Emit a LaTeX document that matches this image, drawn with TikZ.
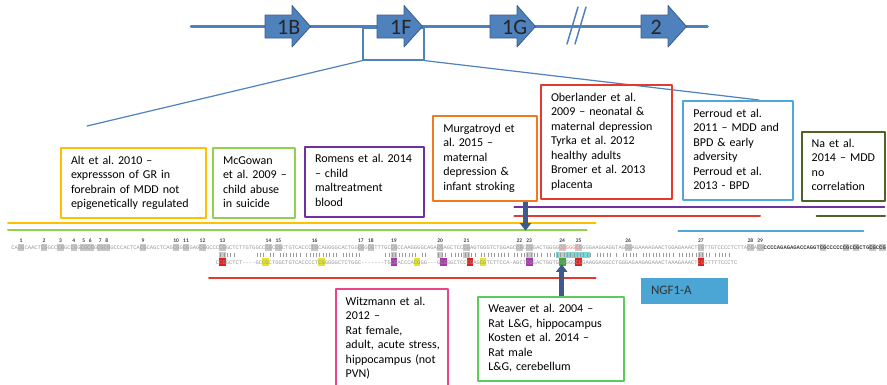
\documentclass[tikz,border=0pt]{standalone}
\usepackage{fontspec}
\setmainfont{Carlito}
\newfontfamily\seqfont{Liberation Mono}
\usepackage{tikz}
\usetikzlibrary{arrows.meta}
\frenchspacing
\definecolor{tfowbd}{rgb}{0.310,0.506,0.741}
\definecolor{rozdoa}{rgb}{0.220,0.365,0.541}
\definecolor{ffcqqq}{rgb}{1.0,0.753,0.0}
\definecolor{pedqzq}{rgb}{0.573,0.816,0.314}
\definecolor{iqrqaq}{rgb}{0.439,0.188,0.627}
\definecolor{fqiaew}{rgb}{0.941,0.478,0.118}
\definecolor{eqraee}{rgb}{0.886,0.231,0.180}
\definecolor{teaodc}{rgb}{0.306,0.659,0.863}
\definecolor{tfueeo}{rgb}{0.310,0.384,0.157}
\definecolor{eptuoa}{rgb}{0.914,0.275,0.541}
\definecolor{zccbzc}{rgb}{0.361,0.796,0.361}
\definecolor{tbazdz}{rgb}{0.294,0.647,0.835}
\definecolor{rdzaoa}{rgb}{0.239,0.353,0.541}
\definecolor{papapa}{rgb}{0.604,0.604,0.604}
\definecolor{cococo}{rgb}{0.784,0.784,0.784}
\definecolor{eqeqwe}{rgb}{0.878,0.125,0.118}
\definecolor{etetec}{rgb}{0.894,0.894,0.173}
\definecolor{atraao}{rgb}{0.643,0.227,0.659}
\definecolor{rdaard}{rgb}{0.239,0.667,0.239}
\definecolor{ifdtdt}{rgb}{0.498,0.831,0.831}
\definecolor{fqoqoq}{rgb}{0.941,0.502,0.502}
\definecolor{tqtqtq}{rgb}{0.251,0.251,0.251}
\newcommand{\boxfont}{\fontsize{12}{14.5}\selectfont}
\newcommand{\ngffont}{\fontsize{13}{15}\selectfont}
\newcommand{\genefont}{\fontsize{22}{24}\selectfont}
\newcommand{\numfont}{\fontsize{5.5}{6}\selectfont\bfseries}
\newcommand{\seqsize}{\seqfont\fontsize{5.5}{6}\selectfont}
\newcommand{\seqgap}{\mbox{-}}
\newcommand{\reflines}[1]{\begin{tabular}{@{}l@{}}#1\end{tabular}}

\begin{document}
\begin{tikzpicture}[line cap=round,line join=round,x=1pt,y=1pt,
refbox/.style={draw=#1,line width=1.8pt,font=\boxfont,align=left,inner xsep=10pt,inner ysep=0pt},
genearrow/.style={fill=tfowbd,draw=rozdoa,line width=0.8pt},
genelab/.style={font=\genefont,text=black!85,inner sep=0pt,anchor=base west},
studyline/.style={line width=2pt,color=#1},
zoomline/.style={color=tfowbd,line width=1.2pt},
mutarrow/.style={rdzaoa,line width=4.5pt,line cap=butt,-{Triangle[width=11pt,length=7.5pt]}},
cgbox/.style={fill=cococo},
cgnum/.style={font=\numfont,text=tqtqtq,inner sep=0pt,anchor=base},
seqtext/.style={font=\seqsize,text=papapa,inner sep=0pt,anchor=base west},
seqbar/.style={papapa,line width=0.45pt,line cap=butt}]
\clip(0,0) rectangle (887,-384);
% gene with exons
\node [draw=tfowbd,line width=1.2pt,inner sep=0pt,minimum width=61pt,minimum height=32pt] (zoom) at (393.5,-44) {};
\coordinate (zoomL) at (87,-126);
\coordinate (zoomR) at (759,-100);
\draw [zoomline] (zoom.south west) -- (zoomL);
\draw [zoomline] (zoom.south east) -- (zoomR);
\draw [color=tfowbd,line width=2.5pt] (191,-26.7) -- (707.5,-26.7);
\foreach \x/\lab/\dx in {265/1B/12,377/1F/13,490/1G/12,641/2/9.5}{
\draw [genearrow] (\x,-15) -- (\x+27,-15) -- (\x+27,-5.5) -- (\x+45.5,-26.5) -- (\x+27,-47) -- (\x+27,-38) -- (\x,-38) -- cycle;
\node [genelab] (gene\lab) at (\x+\dx,-34.5) {\lab};
}
\draw [color=tfowbd,line width=1.5pt] (567,-44) -- (578,-7);
\draw [color=tfowbd,line width=1.5pt] (575,-44) -- (586,-7);
% studies
\node [refbox=ffcqqq,minimum width=144.7pt,minimum height=69.4pt,text width=124.7pt] (alt) at (133.35,-183) {\reflines{Alt et al. 2010 –\\expressson of GR in\\forebrain of MDD not\\epigenetically regulated}};
\node [refbox=pedqzq,minimum width=82pt,minimum height=69.4pt,text width=62pt] (mcgowan) at (254,-183) {\reflines{McGowan\\et al. 2009 –\\child abuse\\in suicide}};
\node [refbox=iqrqaq,minimum width=119.3pt,minimum height=70pt,text width=99.3pt] (romens) at (364.65,-181.7) {\reflines{Romens et al. 2014\\– child\\maltreatment\\blood}};
\node [refbox=fqiaew,minimum width=103.4pt,minimum height=84.7pt,text width=83.4pt] (murg) at (485,-158.35) {\reflines{Murgatroyd et\\al. 2015 –\\maternal\\depression \&\\infant stroking}};
\node [refbox=eqraee,minimum width=131.3pt,minimum height=114pt,text width=111.3pt] (ober) at (606.65,-142) {\reflines{Oberlander et al.\\2009 – neonatal \&\\maternal depression\\Tyrka et al. 2012\\healthy adults\\Bromer et al. 2013\\placenta}};
\node [refbox=teaodc,minimum width=110pt,minimum height=99.3pt,text width=90pt] (perroud) at (738.3,-150.35) {\reflines{Perroud et al.\\2011 – MDD and\\BPD \& early\\adversity\\Perroud et al.\\2013 - BPD}};
\node [refbox=tfueeo,minimum width=83.3pt,minimum height=69pt,text width=63.3pt] (na) at (843.35,-166.2) {\reflines{Na et al.\\2014 – MDD\\no\\correlation}};
\node [refbox=eptuoa,minimum width=112pt,minimum height=99pt,text width=92pt] (witz) at (391.7,-338.5) {\reflines{Witzmann et al.\\2012 –\\Rat female,\\adult, acute stress,\\hippocampus (not\\PVN)}};
\node [refbox=zccbzc,minimum width=145.7pt,minimum height=84.3pt,text width=125.7pt] (weaver) at (551.15,-338.85) {\reflines{Weaver et al. 2004 –\\Rat L\&G, hippocampus\\Kosten et al. 2014 –\\Rat male\\L\&G, cerebellum}};
\node [fill=tbazdz,font=\ngffont,text=black!80,align=left,inner xsep=10pt,inner ysep=0pt,minimum width=86.7pt,minimum height=26pt,text width=66.7pt] (ngf) at (684.35,-290.7) {NGF1-A};
% covered regions
\draw [studyline=ffcqqq] (8,-223.3) -- (595.7,-223.3);
\draw [studyline=pedqzq] (8,-230) -- (586.7,-230);
\draw [studyline=iqrqaq] (514.3,-206.7) -- (884.3,-206.7);
\draw [studyline=eqraee] (514.3,-215.7) -- (760,-215.7);
\draw [studyline=tfueeo] (816.7,-215.7) -- (885,-215.7);
\draw [studyline=teaodc] (678.3,-230.7) -- (863.3,-230.7);
\draw [studyline=eqraee] (209,-278) -- (595.7,-278);
% sequence alignment
\foreach \c [count=\n] in {2,9,14,18,21,23,26,28,39,49,52,57,63,77,80,91,105,108,115,129,137,153,156,166,171,186,208,223,226}{
\fill [cgbox] ({11.1+3.3*\c},-244.3) rectangle ++(6.6,-6.4);
\node [cgnum] (n\n) at ({11.1+3.3*(\c+1)},-242.7) {\n};
}
\foreach \c in {245,252,255,260,263}
\fill [cgbox] ({11.1+3.3*\c},-244.3) rectangle ++(6.6,-6.4);
\fill [ifdtdt] (556,-251.7) rectangle (590,-257.7);
\foreach \c in {63,115,129,137,156,166,208}
\fill [cgbox] ({11.1+3.3*\c},-251.7) rectangle ++(6.6,-6);
\foreach \a/\b in {63/67,74/76,78/79,81/87,89/98,100/105,113/122,124/125,129/131,133/140,142/150,152/160,162/175,177/181,183/183,185/189,191/200,202/211,213/217}
\foreach \i in {\a,...,\b}
\draw [seqbar] ({11.1+3.3*(\i+0.5)},-252.6) -- ++(0,-4.2);
\foreach \c/\col in {63/eqeqwe,76/etetec,93/etetec,115/atraao,122/etetec,130/atraao,138/eqeqwe,142/etetec,156/atraao,166/rdaard,171/eqeqwe,208/eqeqwe}
\fill [\col] ({11.1+3.3*\c},-258.3) rectangle ++(6.6,-7.4);
\node [seqtext] (seqtop) at (11.1,-249.5) {CACGCAACTCGGCCCGGCCGGCGCGGCGCGGCCCACTCACGCAGCTCAGCGGCGGAGCGGCCCCGGCTCTTGTGGCCCGCCGCTGTCACCCCGCAGGGGCACTGGCGGCGTTTGCCGCCAAGGGGCAGACGAGCTCCCGAGTGGGTCTGGAGCCGCCGGACTGGGG};
\node [seqtext,text=fqoqoq] (seqpink) at ({11.1+3.3*166},-249.5) {CGGGGCG};
\node [seqtext] (seqrest) at ({11.1+3.3*173},-249.5) {GGGAAGGAGGTAGCGAGAAAAGAACTGGAGAAACTCGTTGTCCCCTCTTACGACG};
\node [seqtext,text=tqtqtq,font=\seqsize\bfseries] (seqbold) at ({11.1+3.3*228},-249.5) {CCCCAGAGAGACCAGGTCGCCCCCCGCCGCTGCGCCG};
\node [seqtext] (seqbottom) at ({11.1+3.3*62},-264) {CCGGCTCT\seqgap\seqgap\seqgap\seqgap GCCGCTGGCTGTCACCCCTCGGGGGCTCTGGC\seqgap\seqgap\seqgap\seqgap\seqgap\seqgap\seqgap TGCGACCCACGGG\seqgap\seqgap\seqgap GCGGGCTCCCGAGCGTCTTCCA\seqgap AGCTCGGACTGGTGCGGGGCGGAAGGAGGCCTGGGAGAAGAGAAACTAAAGAAACTCGGTTTTCCCTC};
% arrows to sites
\coordinate (murgtip) at (525.5,-230.7);
\draw [mutarrow] (murg.south -| murgtip) -- (murgtip);
\coordinate (weavtip) at (561.7,-264.3);
\draw [mutarrow] (weaver.north -| weavtip) -- (weavtip);
\end{tikzpicture}
\end{document}
